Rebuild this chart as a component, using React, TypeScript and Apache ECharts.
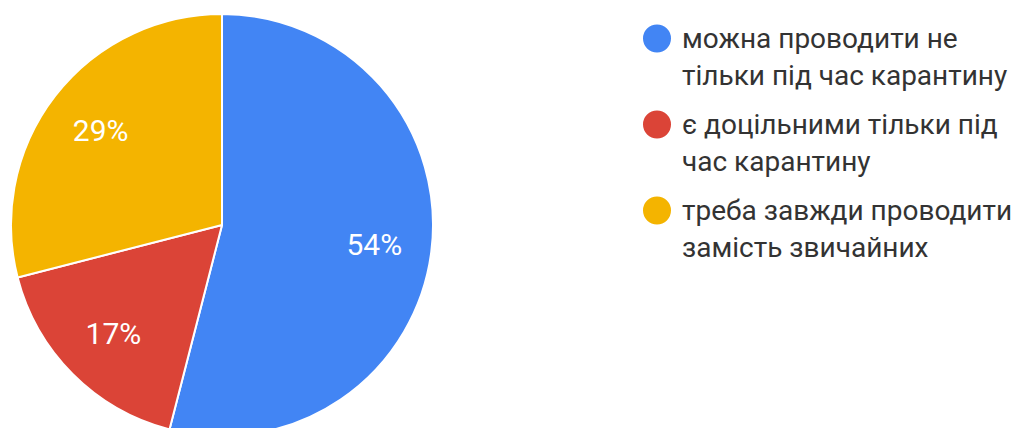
import React, { useEffect, useRef } from "react";
import * as echarts from "echarts";

const categories = [
  "можна проводити не\nтільки під час карантину",
  "є доцільними тільки під\nчас карантину",
  "треба завжди проводити\nзамість звичайних",
];
const values = [54, 17, 29];
const colors = ["#4285F4", "#DB4437", "#F4B400"];

// legend icon: circle aligned with the first text line
const legendIcon =
  "path://M0,18.5 A14,14 0 1 1 28,18.5 A14,14 0 1 1 0,18.5 Z M0,0 L0.001,0 M34,74 L34.001,74";

export default function App() {
  const ref = useRef<HTMLDivElement>(null);
  useEffect(() => {
    if (!ref.current) return;
    const chart = echarts.init(ref.current, undefined, { renderer: "svg" });
    const data = categories.map((name, i) => ({
      name,
      value: values[i],
      itemStyle: { color: colors[i] },
    }));
    chart.setOption({
      animation: false,
      legend: {
        orient: "vertical",
        left: 643,
        top: 20,
        padding: 0,
        itemGap: 12,
        itemWidth: 34,
        itemHeight: 74,
        icon: legendIcon,
        itemStyle: { borderWidth: 0 },
        selectedMode: false,
        data: categories,
        textStyle: {
          fontFamily: "Roboto",
          fontSize: 28,
          lineHeight: 37,
          color: "#333333",
        },
      },
      series: [
        {
          type: "pie",
          center: [222, 225],
          radius: [0, 211],
          startAngle: 90,
          clockwise: true,
          silent: true,
          label: { show: false },
          labelLine: { show: false },
          itemStyle: { borderColor: "#ffffff", borderWidth: 2 },
          data,
        },
        {
          type: "pie",
          center: [222, 225],
          radius: [90, 211],
          startAngle: 90,
          clockwise: true,
          silent: true,
          itemStyle: { color: "rgba(0,0,0,0)", borderWidth: 0 },
          label: {
            show: true,
            position: "inside",
            formatter: "{c}%",
            color: "#ffffff",
            fontFamily: "Roboto",
            fontSize: 30,
          },
          labelLine: { show: false },
          data: categories.map((name, i) => ({ name, value: values[i] })),
        },
      ],
    });
    return () => chart.dispose();
  }, []);
  return (
    <div
      ref={ref}
      style={{ position: "absolute", left: 0, top: 0, width: 1019, height: 428 }}
    />
  );
}
